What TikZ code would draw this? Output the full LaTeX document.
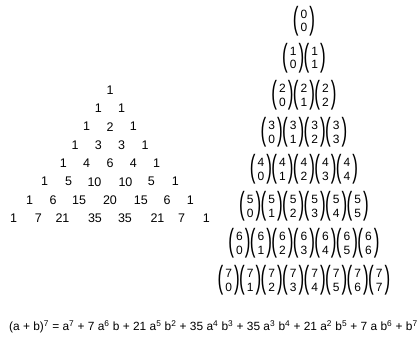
\documentclass[tikz,border=0pt]{standalone}
\usepackage{fontspec}
\setmainfont{Liberation Sans}
\begin{document}
\begin{tikzpicture}[x=1pt,y=-1pt,
  tri/.style={font=\fontsize{12.5}{13}\selectfont, inner sep=0pt},
  dig/.style={font=\fontsize{12}{12}\selectfont, inner sep=0pt},
  par/.style={font=\fontsize{10}{10}\selectfont, inner sep=0pt, yscale=3.2, xscale=1.7, transform shape},
  eqn/.style={font=\fontsize{11.9}{12}\selectfont, inner sep=0pt, anchor=west}
]
\useasboundingbox (0,0) rectangle (418,347);
% Pascal triangle (numbers)
\node[tri] (t1-1) at (110,90) {1};
\foreach \x/\v [count=\i] in {98.3/1,121.7/1} \node[tri] (t2-\i) at (\x,108.3) {\v};
\foreach \x/\v [count=\i] in {86.7/1,110/2,133.3/1} \node[tri] (t3-\i) at (\x,126.7) {\v};
\foreach \x/\v [count=\i] in {75/1,98.3/3,121.7/3,145/1} \node[tri] (t4-\i) at (\x,145) {\v};
\foreach \x/\v [count=\i] in {63.3/1,86.7/4,110/6,133.3/4,156.7/1} \node[tri] (t5-\i) at (\x,163.3) {\v};
\foreach \x/\v [count=\i] in {44.7/1,68.7/5,94.5/10,125.5/10,151.3/5,175.3/1} \node[tri] (t6-\i) at (\x,181.7) {\v};
\foreach \x/\v [count=\i] in {29.7/1,53/6,79.2/15,110/20,140.8/15,167/6,190.3/1} \node[tri] (t7-\i) at (\x,200) {\v};
\foreach \x/\v [count=\i] in {13.7/1,38.3/7,62.5/21,95/35,125/35,157.5/21,181.7/7,206.3/1} \node[tri] (t8-\i) at (\x,218.3) {\v};
% Binomial coefficients
\foreach \n in {0,...,7} {
  \pgfmathsetmacro\cy{21+37.07*\n}
  \foreach \k in {0,...,\n} {
    \pgfmathsetmacro\cx{304+(\k-\n/2)*21.5}
    \node[dig] (b\n-\k-t) at (\cx,\cy-6.8) {\n};
    \node[dig] (b\n-\k-b) at (\cx,\cy+6.8) {\k};
    \node[par] (b\n-\k-l) at (\cx-8.3,\cy) {(};
    \node[par] (b\n-\k-r) at (\cx+8.3,\cy) {)};
  }
}
% Expansion
\node[eqn] (eq) at (9,327) {(a + b)\textsuperscript{7} = a\textsuperscript{7} + 7 a\textsuperscript{6} b + 21 a\textsuperscript{5} b\textsuperscript{2} + 35 a\textsuperscript{4} b\textsuperscript{3} + 35 a\textsuperscript{3} b\textsuperscript{4} + 21 a\textsuperscript{2} b\textsuperscript{5} + 7 a b\textsuperscript{6} + b\textsuperscript{7}};
\end{tikzpicture}
\end{document}
